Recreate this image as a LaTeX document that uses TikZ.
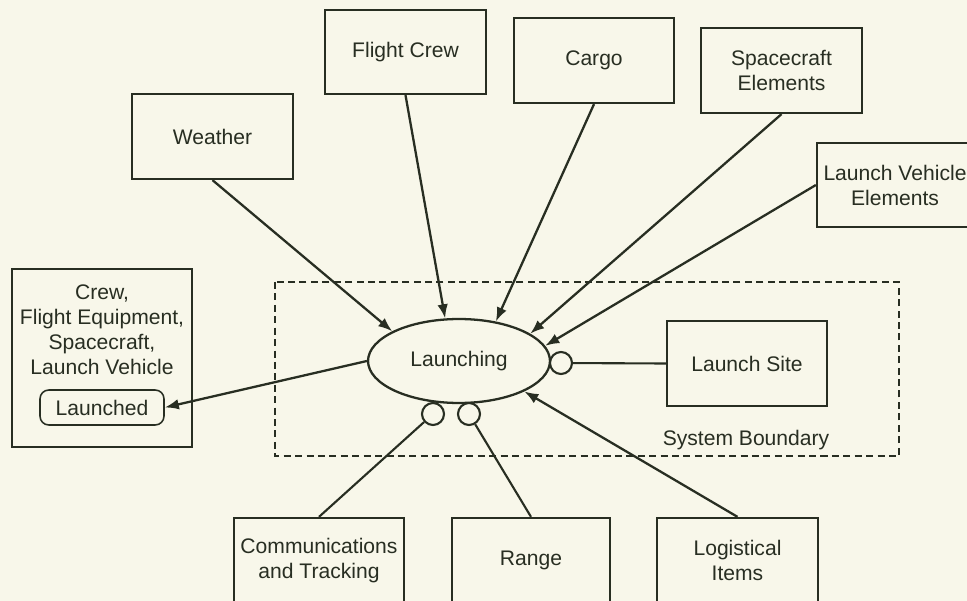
\documentclass[tikz,border=0pt]{standalone}
\usepackage{fontspec}
\setmainfont{Liberation Sans}
\usetikzlibrary{positioning, arrows.meta, shapes.geometric}

\definecolor{paper}{RGB}{248,247,234}
\definecolor{ink}{RGB}{40,46,34}

\tikzset{
  box/.style={draw=ink, line width=1.3pt, align=center, text=ink,
    minimum width=3.22cm, minimum height=1.70cm, inner sep=2pt},
  iface/.style={circle, draw=ink, line width=1.2pt, fill=paper,
    minimum size=0.44cm, inner sep=0pt},
  flow/.style={draw=ink, line width=1.3pt, -{Latex[length=8pt, width=6pt]}},
  link/.style={draw=ink, line width=1.2pt},
}

\begin{document}
\begin{tikzpicture}[x=0.02cm, y=-0.02cm, font=\fontsize{12}{14.2}\selectfont]
% page size and paper colour
\useasboundingbox (0,0) rectangle (967,601);
\clip (0,0) rectangle (967,601);
\fill[paper] (0,0) rectangle (967,601);

% system boundary (dashed)
\draw[ink, line width=0.9pt, dash pattern=on 4pt off 2.5pt] (275,282) rectangle (899,456);
\node[text=ink] (sysb) at (746,440) {System Boundary};

% central function
\node[ellipse, draw=ink, line width=1.3pt, text=ink, minimum width=3.64cm,
  minimum height=1.68cm, inner sep=0pt] (launching) at (459,361) {Launching};

% interface circles on the ellipse
\node[iface] (c1) at (561,363) {};
\node[iface] (c2) at (433,414) {};
\node[iface] (c3) at (469,414) {};

% inputs along the top
\node[box] (weather)    at (212.5,136.5) {Weather};
\node[box, minimum height=1.68cm] (flightcrew) at (405.5,52) {Flight Crew};
\node[box, minimum width=3.20cm] (cargo) at (594,60.5) {Cargo};
\node[box] (spacecraft) at (781.5,70.5) {Spacecraft\\Elements};
\node[box, minimum width=3.12cm, minimum height=1.68cm] (lv) at (895,185) {Launch Vehicle\\Elements};

% mechanisms inside / below the boundary
\node[box, minimum width=3.20cm] (launchsite) at (747,363.5) {Launch Site};
\node[box, minimum width=3.40cm] (comm) at (319,560.5) {Communications\\and Tracking};
\node[box, minimum width=3.16cm] (range) at (531,560.5) {Range};
\node[box] (logistical) at (737.5,560.5) {Logistical\\Items};

% output box on the left
\node[box, minimum width=3.60cm, minimum height=3.56cm] (payload) at (102,358) {};
\node[text=ink, align=center] (payloadtext) at (102,329.5)
  {Crew,\\Flight Equipment,\\Spacecraft,\\Launch Vehicle};
\node[box, rounded corners=5pt, line width=0.9pt, minimum width=2.48cm,
  minimum height=0.70cm] (launched) at (102,407.5) {Launched};

% input arrows
\draw[flow] (weather.south) -- (launching.156);
\draw[flow] (flightcrew.south) -- (launching.108);
\draw[flow] (cargo.south) -- (launching.47);
\draw[flow] (spacecraft.south) -- (launching.21);
\draw[flow] (lv.west) -- (launching.10.5);
\draw[flow] (logistical.north) -- (launching.-25);

% output arrow
\draw[flow] (launching.west) -- (launched.east);

% interface links
\draw[link] (c1) -- (launchsite.west);
\draw[link] (c2) -- (comm.north);
\draw[link] (c3) -- (range.north);
\end{tikzpicture}
\end{document}
